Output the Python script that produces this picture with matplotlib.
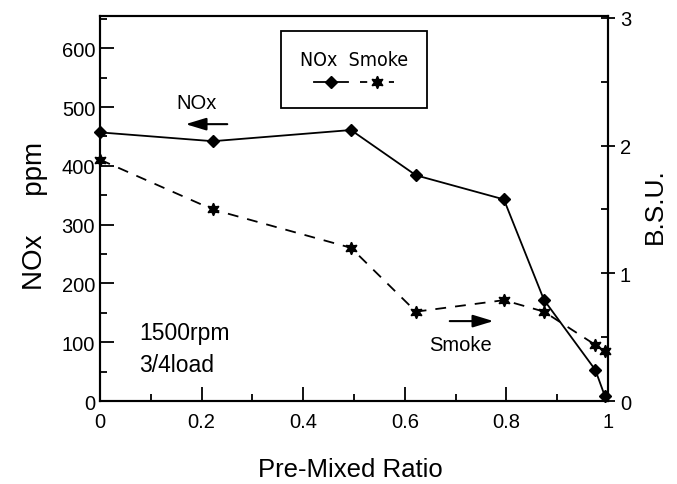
import matplotlib
matplotlib.use('Agg')
import matplotlib.pyplot as plt
from matplotlib.lines import Line2D
from matplotlib.ticker import MultipleLocator

# datos
ratio_nox = [0.0, 0.222, 0.494, 0.622, 0.795, 0.874, 0.975, 0.994]
nox = [457, 442, 461, 384, 343, 172, 53, 8]

ratio_smoke = [0.0, 0.222, 0.494, 0.622, 0.795, 0.874, 0.975, 0.994]
smoke = [1.89, 1.50, 1.20, 0.70, 0.79, 0.70, 0.44, 0.39]

plt.rcParams['font.family'] = ['Liberation Sans', 'DejaVu Sans']

fig = plt.figure(figsize=(6.77, 4.85), dpi=100)
ax = fig.add_axes([0.1477, 0.171, 0.7504, 0.794])
ax2 = ax.twinx()

ax.plot(ratio_nox, nox, color='black', lw=1.3, marker='D', ms=6, clip_on=False, zorder=5)
ax2.plot(ratio_smoke, smoke, color='black', lw=1.3, ls=(0, (6, 5)), marker=(6, 1, 0), ms=9,
         clip_on=False, zorder=5)

ax.set_xlim(0, 1)
ax.set_ylim(0, 655)
ax2.set_ylim(0, 3.015)

for a in (ax, ax2):
    for s in a.spines.values():
        s.set_linewidth(1.5)

ax.xaxis.set_major_locator(MultipleLocator(0.2))
ax.xaxis.set_minor_locator(MultipleLocator(0.1))
ax.yaxis.set_major_locator(MultipleLocator(100))
ax.yaxis.set_minor_locator(MultipleLocator(50))
ax.tick_params(which='both', direction='in', top=False, right=False, labelsize=14.5, width=1.3)
ax.tick_params(which='major', length=10)
ax.tick_params(which='minor', length=5)
ax.set_xticks([0, 0.2, 0.4, 0.6, 0.8, 1.0])
ax.set_xticklabels(['0', '0.2', '0.4', '0.6', '0.8', '1'])
ax.set_yticks([0, 100, 200, 300, 400, 500, 600])
ax.set_yticklabels(['0', '100', '200', '300', '400', '500', '600'])
ax.tick_params(axis='x', pad=8)

ax2.yaxis.set_major_locator(MultipleLocator(1))
ax2.yaxis.set_minor_locator(MultipleLocator(0.5))
ax2.tick_params(which='major', direction='inout', length=10, width=1.3, labelsize=14.5)
ax2.tick_params(which='minor', direction='in', length=5, width=1.3)
ax2.set_yticks([0, 1, 2, 3])
ax2.set_yticklabels(['0', '1', '2', '3'])

fig.text(0.052, 0.555, 'NOx     ppm', rotation=90, fontsize=20, ha='center', va='center')
fig.text(0.968, 0.575, 'B.S.U.', rotation=90, fontsize=19, ha='center', va='center')
fig.text(0.517, 0.03, 'Pre-Mixed Ratio', fontsize=18.5, ha='center', va='center')

# flechas y textos
ax.annotate('', xy=(0.163, 471), xytext=(0.256, 471),
            arrowprops=dict(arrowstyle='-|>,head_length=1.25,head_width=0.38', color='black', lw=1.5))
ax.text(0.19, 508, 'NOx', fontsize=14.5, ha='center', va='center')
ax.annotate('', xy=(0.78, 136), xytext=(0.683, 136),
            arrowprops=dict(arrowstyle='-|>,head_length=1.25,head_width=0.38', color='black', lw=1.5))
ax.text(0.709, 97, 'Smoke', fontsize=14.5, ha='center', va='center')
ax.text(0.077, 116, '1500rpm', fontsize=16.5, ha='left', va='center')
ax.text(0.077, 63, '3/4load', fontsize=16.5, ha='left', va='center')

h1 = Line2D([], [], color='black', lw=1.3, marker='D', ms=6)
h2 = Line2D([], [], color='black', lw=1.3, ls=(0, (4, 4)), marker=(6, 1, 0), ms=9)
leg = ax2.legend([h1, h2], ['', ''], ncol=2, title='NOx  Smoke', loc='upper center',
                 bbox_to_anchor=(0.5, 0.961), fancybox=False, edgecolor='black',
                 framealpha=1, handlelength=2.5, handletextpad=0, columnspacing=0.8,
                 borderpad=1.35, borderaxespad=0,
                 title_fontproperties={'family': 'DejaVu Sans', 'stretch': 'condensed', 'size': 14})
leg.get_frame().set_linewidth(1.3)

fig.savefig('out.png', dpi=100)
